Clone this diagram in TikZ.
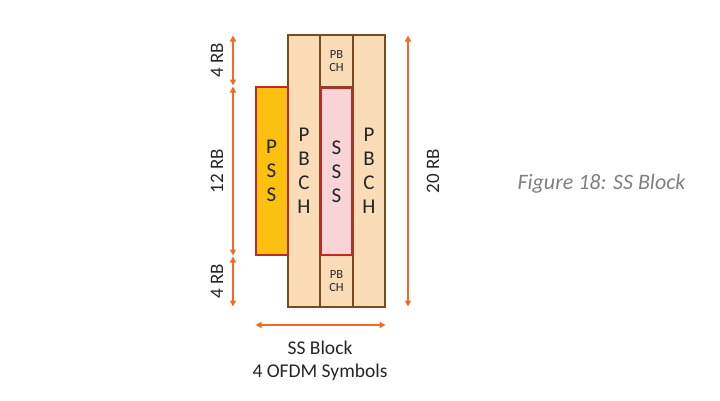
\documentclass[tikz,border=0pt]{standalone}
\usepackage{fontspec}
\setmainfont{Carlito}
\usetikzlibrary{arrows.meta}
\definecolor{pbfill}{HTML}{FADDB6}
\definecolor{pbdraw}{HTML}{7B4A1E}
\definecolor{pssfill}{HTML}{FBC010}
\definecolor{ssfill}{HTML}{F9D4D7}
\definecolor{reddraw}{HTML}{C1272D}
\definecolor{arr}{HTML}{F26A2A}
\definecolor{txt}{HTML}{262626}
\definecolor{cap}{HTML}{808080}
\begin{document}
\begin{tikzpicture}[x=1pt,y=-1pt,
  box/.style={draw, anchor=north west, inner sep=0pt, outer sep=0pt, align=center, text=txt},
  pbbox/.style={box, fill=pbfill, draw=pbdraw, line width=1.3pt},
  redbox/.style={box, draw=reddraw, line width=2pt},
  bigtxt/.style={font=\fontsize{21}{24}\selectfont},
  smalltxt/.style={font=\fontsize{12.5}{13}\selectfont},
  dim/.style={draw=arr, line width=1.6pt, {Triangle[length=6pt,width=6pt]}-{Triangle[length=6pt,width=6pt]}, shorten <=0.5pt, shorten >=0.5pt},
  lab/.style={text=txt, font=\fontsize{19}{22}\selectfont, rotate=90}
]
\useasboundingbox (0,0) rectangle (720,400);
% columns
\node[pbbox, bigtxt, minimum width=32pt, minimum height=272pt] (pb1) at (288,35) {P\\B\\C\\H};
\node[pbbox, bigtxt, minimum width=32pt, minimum height=272pt] (pb3) at (353,35) {P\\B\\C\\H};
\node[pbbox, smalltxt, minimum width=33pt, minimum height=52pt] (pbt) at (320,35) {PB\\CH};
\node[pbbox, smalltxt, minimum width=33pt, minimum height=52pt] (pbb) at (320,255) {PB\\CH};
\node[redbox, bigtxt, fill=pssfill, minimum width=32pt, minimum height=168pt] (pss) at (255.5,87) {P\\S\\S};
\node[redbox, bigtxt, fill=ssfill, minimum width=31pt, minimum height=167pt] (sss) at (321,88) {S\\S\\S};
% left dimension arrows
\coordinate (a0) at (233,35);
\coordinate (a1) at (233,86);
\coordinate (a2) at (233,256);
\coordinate (a3) at (233,307);
\draw[dim] (a0) -- (a1);
\draw[dim] (a1) -- (a2);
\draw[dim] (a2) -- (a3);
\node[lab] (l1) at (217,60.5) {4 RB};
\node[lab] (l2) at (217,171) {12 RB};
\node[lab] (l3) at (217,281.5) {4 RB};
% right arrow
\coordinate (r0) at (408,35);
\coordinate (r1) at (408,307);
\draw[dim] (r0) -- (r1);
\node[lab] (l4) at (433,171) {20 RB};
% bottom arrow
\coordinate (b0) at (255,325);
\coordinate (b1) at (386,325);
\draw[dim] (b0) -- (b1);
\node[text=txt, align=center, font=\fontsize{19.5}{23}\selectfont] (ss) at (320,361) {SS Block\\4 OFDM Symbols};
% caption
\node[text=cap, font=\fontsize{22}{24}\selectfont\itshape, anchor=west] (capn) at (514,184) {Figure 18: SS Block};
\end{tikzpicture}
\end{document}
